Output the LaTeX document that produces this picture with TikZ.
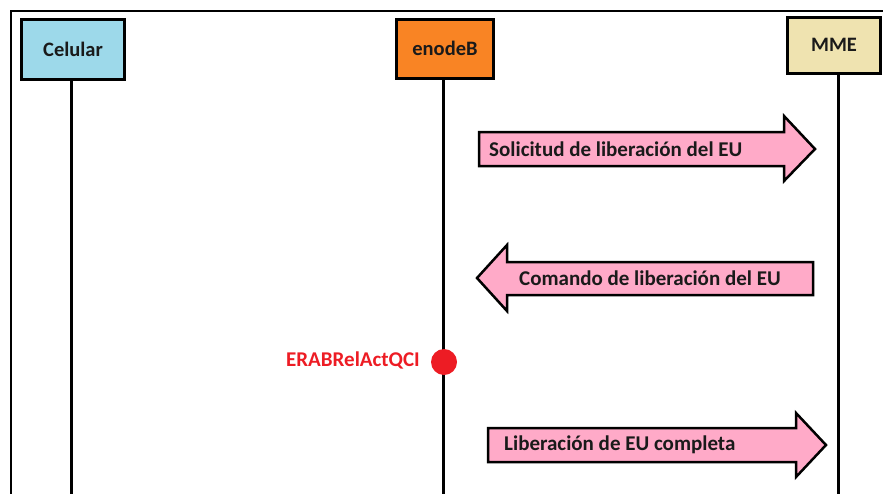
\documentclass[tikz,border=0pt]{standalone}
\usepackage{fontspec}
\setmainfont{Carlito}
\definecolor{celc}{HTML}{9DD9EA}
\definecolor{enbc}{HTML}{F98424}
\definecolor{mmec}{HTML}{EFE3B0}
\definecolor{pinkc}{HTML}{FFAAC8}
\definecolor{redc}{HTML}{ED1C24}
\definecolor{txtc}{HTML}{1A1A1A}
\begin{document}
\begin{tikzpicture}[x=1pt,y=-1pt,
  actor/.style={draw=black,line width=3pt,inner sep=0pt,font=\fontsize{20.5}{24}\selectfont\bfseries,text=txtc},
  life/.style={line width=3pt},
  msg/.style={draw=black,line width=2.5pt,fill=pinkc,line join=miter},
  msgtext/.style={font=\fontsize{21}{24}\selectfont\bfseries,text=txtc,inner sep=0pt}]
\useasboundingbox (0,0) rectangle (883,493);
\draw[line width=2pt] (11,494) -- (11,11) -- (884,11);
% actors
\node[actor,fill=celc,minimum width=103pt,minimum height=60pt] (cel) at (73,49.5) {Celular};
\node[actor,fill=enbc,minimum width=97pt,minimum height=59pt] (enb) at (445,48.5) {enodeB};
\node[actor,fill=mmec,minimum width=93pt,minimum height=56pt] (mme) at (834,45) {MME};
\coordinate (celend) at (71,494);
\coordinate (enbend) at (443,494);
\coordinate (mmeend) at (838,494);
\draw[life] (cel.south -| celend) -- (celend);
\draw[life] (enb.south -| enbend) -- (enbend);
\draw[life] (mme.south -| mmeend) -- (mmeend);
% message 1
\draw[msg] (479,132) -- (784,132) -- (784,116) -- (815,149) -- (784,181) -- (784,166) -- (479,166) -- cycle;
\node[msgtext,anchor=west] (m1) at (489,149) {Solicitud de liberación del EU};
% message 2
\draw[msg] (813,262) -- (507,262) -- (507,245) -- (477,278) -- (507,311) -- (507,295) -- (813,295) -- cycle;
\node[msgtext,anchor=west] (m2) at (519,278) {Comando de liberación del EU};
% event
\node[circle,fill=redc,minimum size=26pt,inner sep=0pt] (ev) at (444,362) {};
\node[font=\fontsize{21}{24}\selectfont\bfseries,text=redc,anchor=east,inner sep=0pt] (evl) at (420,360) {ERABRelActQCI};
% message 3
\draw[msg] (488,428) -- (796,428) -- (796,413) -- (826,445) -- (796,477) -- (796,462) -- (488,462) -- cycle;
\node[msgtext,anchor=west] (m3) at (504,445) {Liberación de EU completa};
\end{tikzpicture}
\end{document}
